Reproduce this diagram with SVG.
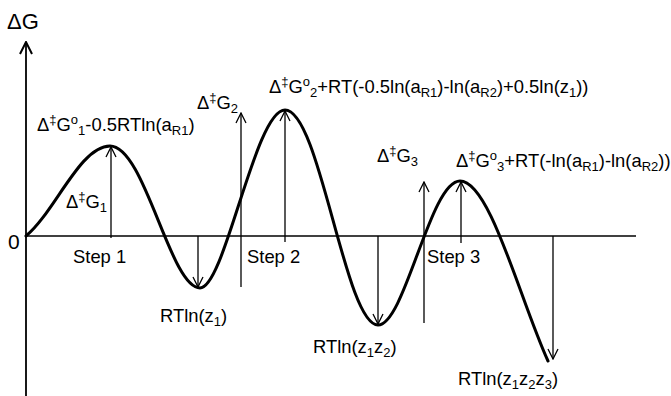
<svg xmlns="http://www.w3.org/2000/svg" width="671" height="396" viewBox="0 0 671 396">
<defs>
<marker id="ah" viewBox="0 0 12 12" refX="11" refY="6" markerWidth="12" markerHeight="12" markerUnits="userSpaceOnUse" orient="auto">
<path d="M1,1 L11,6 L1,11" fill="none" stroke="#000" stroke-width="1.3"/>
</marker>
<marker id="ahb" viewBox="0 0 14 14" refX="13" refY="7" markerWidth="14" markerHeight="14" markerUnits="userSpaceOnUse" orient="auto">
<path d="M1,1 L13,7 L1,13" fill="none" stroke="#000" stroke-width="2"/>
</marker>
</defs>
<style>
text{font-family:"Liberation Sans",Arial,sans-serif;fill:#000;font-size:18.4px}
.s{font-size:13px}
.ln{stroke:#000;stroke-width:1.3;fill:none}
.ar{stroke:#000;stroke-width:1.3;fill:none;marker-end:url(#ah)}
.cv{stroke:#000;stroke-width:3;fill:none;stroke-linecap:round}
</style>
<rect width="671" height="396" fill="#fff"/>
<g id="axes">
<line x1="26" y1="396" x2="26" y2="42" stroke="#000" stroke-width="1.8" marker-end="url(#ahb)"/>
<line class="ln" x1="26" y1="236" x2="636" y2="236"/>
</g>
<g id="curve">
<path class="cv" d="M26,236 C55,212 80,146 110,146 C145,146 170,288 200,288 C225,288 255,110 285,110 C320,110 345,325 378,325 C405,325 430,181 460,181 C490,181 520,300 548,361"/>
</g>
<g id="connectors">
<line class="ar" x1="111" y1="238" x2="111" y2="147"/>
<line class="ar" x1="198" y1="236" x2="198" y2="287"/>
<line class="ar" x1="241" y1="287" x2="241" y2="113"/>
<line class="ar" x1="285" y1="242" x2="285" y2="111"/>
<line class="ar" x1="378" y1="236" x2="378" y2="324"/>
<line class="ar" x1="424" y1="323" x2="424" y2="182"/>
<line class="ar" x1="461" y1="243" x2="461" y2="182"/>
<line class="ar" x1="553" y1="236" x2="553" y2="359"/>
</g>
<g id="labels">
<text x="7" y="29" style="font-size:22px">ΔG</text>
<text x="8" y="249" style="font-size:21px">0</text>
<text x="37" y="131">Δ<tspan class="s" dy="-7">‡</tspan><tspan dy="7">G</tspan><tspan class="s" dy="-7">o</tspan><tspan class="s" dy="11">1</tspan><tspan dy="-4">-0.5RTln(a</tspan><tspan class="s" dy="4">R1</tspan><tspan dy="-4">)</tspan></text>
<text x="197" y="109">Δ<tspan class="s" dy="-7">‡</tspan><tspan dy="7">G</tspan><tspan class="s" dy="4">2</tspan></text>
<text x="269" y="93">Δ<tspan class="s" dy="-7">‡</tspan><tspan dy="7">G</tspan><tspan class="s" dy="-7">o</tspan><tspan class="s" dy="11">2</tspan><tspan dy="-4">+RT(-0.5ln(a</tspan><tspan class="s" dy="4">R1</tspan><tspan dy="-4">)-ln(a</tspan><tspan class="s" dy="4">R2</tspan><tspan dy="-4">)+0.5ln(z</tspan><tspan class="s" dy="4">1</tspan><tspan dy="-4">))</tspan></text>
<text x="377" y="162">Δ<tspan class="s" dy="-7">‡</tspan><tspan dy="7">G</tspan><tspan class="s" dy="4">3</tspan></text>
<text x="456" y="167">Δ<tspan class="s" dy="-7">‡</tspan><tspan dy="7">G</tspan><tspan class="s" dy="-7">o</tspan><tspan class="s" dy="11">3</tspan><tspan dy="-4">+RT(-ln(a</tspan><tspan class="s" dy="4">R1</tspan><tspan dy="-4">)-ln(a</tspan><tspan class="s" dy="4">R2</tspan><tspan dy="-4">))</tspan></text>
<text x="66" y="208">Δ<tspan class="s" dy="-7">‡</tspan><tspan dy="7">G</tspan><tspan class="s" dy="4">1</tspan></text>
<text x="73" y="263">Step 1</text>
<text x="247" y="263">Step 2</text>
<text x="427" y="263">Step 3</text>
<text x="160" y="322">RTln(z<tspan class="s" dy="4">1</tspan><tspan dy="-4">)</tspan></text>
<text x="313" y="353">RTln(z<tspan class="s" dy="4">1</tspan><tspan dy="-4">z</tspan><tspan class="s" dy="4">2</tspan><tspan dy="-4">)</tspan></text>
<text x="458" y="385">RTln(z<tspan class="s" dy="4">1</tspan><tspan dy="-4">z</tspan><tspan class="s" dy="4">2</tspan><tspan dy="-4">z</tspan><tspan class="s" dy="4">3</tspan><tspan dy="-4">)</tspan></text>
</g>
</svg>
